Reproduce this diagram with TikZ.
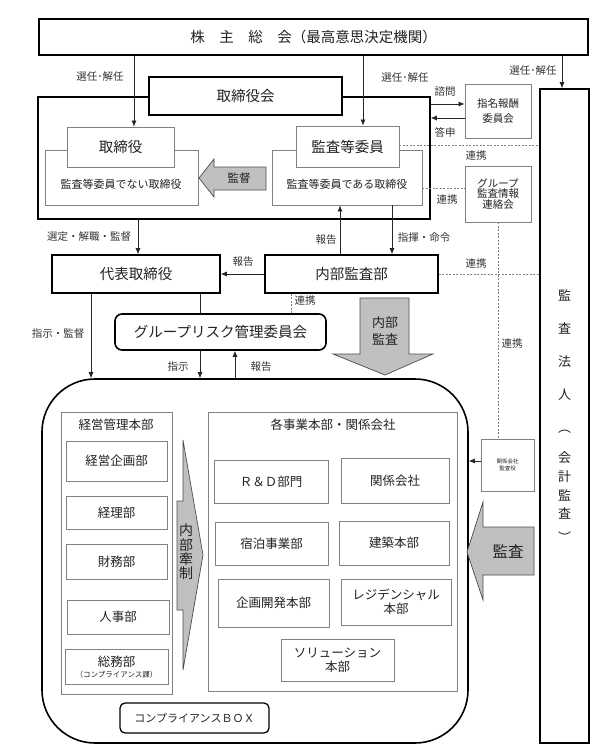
\documentclass[tikz,border=0pt]{standalone}
\usepackage{fontspec}
\setmainfont{Noto Sans CJK JP}
\usetikzlibrary{arrows.meta}
\definecolor{tx}{HTML}{222222}
\definecolor{lb}{HTML}{333333}
\definecolor{gb}{HTML}{808080}
\definecolor{ga}{HTML}{C0C0C0}
\newcommand\myfs[1]{\fontsize{#1}{#1}\selectfont}
\newcommand\mkbox[7]{\node[#2, minimum width={#5-#3}, minimum height={#6-#4}] (#1) at ({(#3+#5)/2},{(#4+#6)/2}) {#7};}
\tikzset{
 thickbox/.style={draw=black, line width=1.6pt, fill=white, inner sep=0pt, align=center, text=tx, font=\myfs{14.5}},
 thinbox/.style={draw=gb, line width=0.8pt, fill=white, inner sep=0pt, align=center, text=tx, font=\myfs{12.5}},
 txt/.style={inner sep=0pt, text=tx, align=center, font=\myfs{12.5}},
 lbl/.style={text=lb, font=\myfs{10.5}, inner sep=0pt},
 arr/.style={-{Latex[length=6pt,width=5pt]}, line width=0.7pt, draw=black!85},
 plain/.style={line width=0.7pt, draw=black!85},
 dotl/.style={draw=gb, line width=0.9pt, dash pattern=on 2pt off 1.5pt},
 garrow/.style={fill=ga, draw=black!70, line width=0.7pt},
 vt/.style={inner sep=0pt, text=tx, font=\myfs{13}},
}
\begin{document}
\begin{tikzpicture}[x=1pt,y=-1pt]
\useasboundingbox (0,0) rectangle (600,755);
% helper coordinates
\coordinate (xa) at (134,0); \coordinate (xb) at (363,0); \coordinate (xc) at (562,0);
\coordinate (ya) at (0,104); \coordinate (yb) at (0,118);
\coordinate (yc) at (0,145); \coordinate (yd) at (0,188); \coordinate (xd) at (498,0);
\coordinate (ye) at (0,274); \coordinate (xe) at (138,0); \coordinate (xf) at (340,0); \coordinate (xg) at (392,0);
\coordinate (xh) at (291,0); \coordinate (xi) at (200,0); \coordinate (xj) at (91,0); \coordinate (xk) at (235,0);
\coordinate (yf) at (0,461);

% top
\mkbox{kabu}{thickbox}{39}{19}{588}{55}{株　主　総　会（最高意思決定機関）}
\mkbox{outer}{thickbox, fill=none}{38}{97}{430}{219}{}
\mkbox{torilow}{thinbox}{45}{150}{198}{205}{}
\node[txt, font=\myfs{11}] (torilowt) at (121,184) {監査等委員でない取締役};
\mkbox{torihd}{thinbox, font=\myfs{14.5}}{67}{127}{174}{167}{取締役}
\mkbox{kanlow}{thinbox}{272}{150}{422}{205}{}
\node[txt, font=\myfs{11}] (kanlowt) at (347,184) {監査等委員である取締役};
\mkbox{kanhd}{thinbox, font=\myfs{14.5}}{296}{126}{399}{167}{監査等委員}
\mkbox{torikai}{thickbox}{149}{77}{342}{115}{取締役会}
\mkbox{shimei}{thinbox, font=\fontsize{10.5}{15}\selectfont}{465}{84}{531}{138}{指名報酬\\委員会}
\mkbox{gkj}{thinbox, font=\fontsize{10.5}{10.5}\selectfont}{465}{166}{531}{222}{グループ\\監査情報\\連絡会}
\mkbox{hojin}{thickbox}{540}{89}{589}{743}{}
\foreach \c/\yy [count=\i] in {監/295, 査/328, 法/362, 人/395, ︵/432, 会/458, 計/477, 監/495, 査/513, ︶/537}
  \node[vt] (v\i) at (564.5,\yy) {\c};

% middle
\mkbox{dai}{thickbox}{52}{255}{220}{293}{代表取締役}
\mkbox{naibu}{thickbox}{265}{255}{438}{293}{内部監査部}
\mkbox{grisk}{thickbox, rounded corners=7}{115}{314}{326}{350}{グループリスク管理委員会}

% big box
\mkbox{big}{thickbox, fill=none, rounded corners=53}{42}{379}{468}{743}{}
\mkbox{keiei}{thinbox}{61}{412}{172}{694}{}
\node[txt] (keieit) at (116,425) {経営管理本部};
\mkbox{kk1}{thinbox}{66}{441}{167}{481}{経営企画部}
\mkbox{kk2}{thinbox}{66}{496}{167}{529}{経理部}
\mkbox{kk3}{thinbox}{66}{544}{167}{579}{財務部}
\mkbox{kk4}{thinbox}{67}{600}{169}{634}{人事部}
\mkbox{kk5}{thinbox}{65}{649}{168}{684}{}
\node[txt] (kk5a) at (116.5,662) {総務部};
\node[txt, font=\myfs{7.5}] (kk5b) at (116.5,675) {（コンプライアンス課）};
\mkbox{jigyo}{thinbox}{208}{412}{457}{691}{}
\node[txt] (jigyot) at (333,425) {各事業本部・関係会社};
\mkbox{rd}{thinbox}{214}{460}{328}{503}{Ｒ＆Ｄ部門}
\mkbox{kanren}{thinbox}{341}{458}{449}{503}{関係会社}
\mkbox{shuku}{thinbox}{215}{522}{328}{565}{宿泊事業部}
\mkbox{kenchiku}{thinbox}{339}{521}{449}{565}{建築本部}
\mkbox{kikaku}{thinbox}{218}{579}{329}{627}{企画開発本部}
\mkbox{resi}{thinbox, font=\fontsize{12.5}{14}\selectfont}{341}{579}{451}{625}{レジデンシャル\\本部}
\mkbox{solu}{thinbox, font=\fontsize{12.5}{14}\selectfont}{281}{639}{394}{681}{ソリューション\\本部}
\mkbox{comp}{thickbox, line width=1.3pt, rounded corners=5, font=\myfs{11}}{120}{703}{269}{733}{コンプライアンスＢＯＸ}
\mkbox{kksk}{thinbox, font=\fontsize{5.5}{7}\selectfont}{481}{439}{534}{491}{関係会社\\監査役}

% block arrows
\draw[garrow] (199,178) -- (214,159) -- (214,167) -- (266,167) -- (266,190) -- (214,190) -- (214,197) -- cycle;
\node[txt, font=\myfs{11.5}] (kantoku) at (239,178) {監督};
\draw[garrow] (360,298) -- (409,298) -- (409,354) -- (433,354) -- (385,375) -- (333,354) -- (360,354) -- cycle;
\node[txt, font=\fontsize{13}{17}\selectfont] (naibukansa) at (385,331) {内部\\監査};
\draw[garrow] (183,440) -- (203,555) -- (183,670) -- (183,610) -- (177,610) -- (177,501) -- (183,501) -- cycle;
\node[txt, font=\fontsize{14}{14.4}\selectfont] (kensei) at (186,552) {内\\部\\牽\\制};
\draw[garrow] (467,552) -- (483,502) -- (483,527) -- (534,527) -- (534,575) -- (483,575) -- (483,600) -- cycle;
\node[txt, font=\myfs{15.5}] (kansaA) at (508,551) {監査};

% connectors
\draw[arr] (kabu.south -| xa) -- (torihd.north -| xa);
\draw[arr] (kabu.south -| xb) -- (kanhd.north -| xb);
\draw[arr] (kabu.south -| xc) -- (hojin.north -| xc);
\node[lbl] (l1) at (100,77) {選任･解任};
\node[lbl] (l2) at (405,78) {選任･解任};
\node[lbl] (l3) at (533,71) {選任･解任};
\draw[arr] (outer.east |- ya) -- (shimei.west |- ya);
\draw[arr] (shimei.west |- yb) -- (outer.east |- yb);
\node[lbl] (l4) at (445,92) {諮問};
\node[lbl] (l5) at (445,132) {答申};
\draw[dotl] (kanhd.east |- yc) -- (hojin.west |- yc);
\node[lbl] (l6) at (476,156) {連携};
\draw[dotl] (kanlow.east |- yd) -- (gkj.west |- yd);
\node[lbl] (l7) at (447,200) {連携};
\draw[dotl] (gkj.south -| xd) -- (kksk.north -| xd);
\node[lbl] (l8) at (512,344) {連携};
\draw[dotl] (naibu.east |- ye) -- (hojin.west |- ye);
\node[lbl] (l9) at (476,264) {連携};
\draw[arr] (outer.south -| xe) -- (dai.north -| xe);
\node[lbl] (l10) at (89,237) {選定・解職・監督};
\draw[arr] (naibu.north -| xf) -- (kanlow.south -| xf);
\node[lbl] (l11) at (326,240) {報告};
\draw[arr] (kanlow.south -| xg) -- (naibu.north -| xg);
\node[lbl] (l12) at (424,238) {指揮・命令};
\draw[arr] (naibu.west |- ye) -- (dai.east |- ye);
\node[lbl] (l13) at (243,262) {報告};
\draw[dotl] (naibu.south -| xh) -- (grisk.north -| xh);
\node[lbl] (l14) at (305,301) {連携};
\draw[plain] (dai.south -| xi) -- (grisk.north -| xi);
\draw[arr] (dai.south -| xj) -- (big.north -| xj);
\node[lbl] (l15) at (58,334) {指示・監督};
\draw[arr] (grisk.south -| xi) -- (big.north -| xi);
\node[lbl] (l16) at (178,367) {指示};
\draw[arr] (big.north -| xk) -- (grisk.south -| xk);
\node[lbl] (l17) at (261,367) {報告};
\draw[arr] (kksk.west |- yf) -- (big.east |- yf);
\end{tikzpicture}
\end{document}
